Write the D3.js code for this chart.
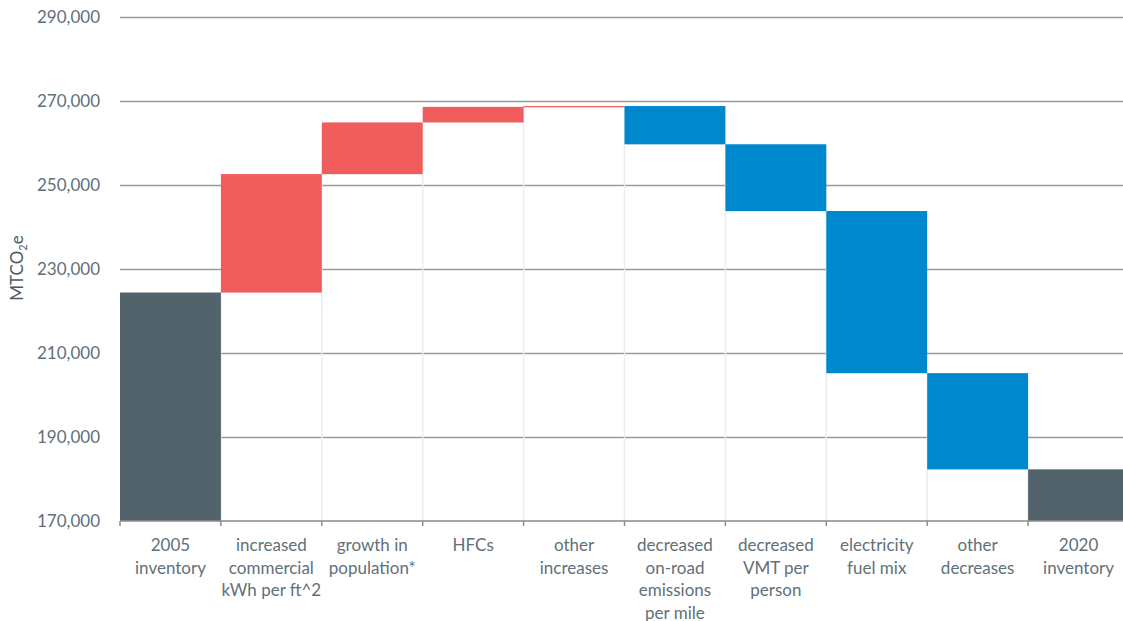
<!DOCTYPE html>
<html>
<head>
<meta charset="utf-8">
<script src="https://cdn.jsdelivr.net/npm/d3@7"></script>
<style>
  body { margin: 0; background: #fff; }
  svg text { font-family: Lato, "Open Sans", sans-serif; }
</style>
</head>
<body>
<svg></svg>
<script>
let categories = ["2005 inventory", "increased commercial kWh per ft^2", "growth in population*", "HFCs",
  "other increases", "decreased on-road emissions per mile", "decreased VMT per person",
  "electricity fuel mix", "other decreases", "2020 inventory"]
// wrapped lines of each category label
let labelLines = [
  ["2005", "inventory"],
  ["increased", "commercial", "kWh per ft^2"],
  ["growth in", "population*"],
  ["HFCs"],
  ["other", "increases"],
  ["decreased", "on-road", "emissions", "per mile"],
  ["decreased", "VMT per", "person"],
  ["electricity", "fuel mix"],
  ["other", "decreases"],
  ["2020", "inventory"]
]
// totals for first/last, changes for the rest
let values = [224400, 28200, 12300, 3700, 200, -9100, -15900, -38600, -22900, 182300]
let kinds = ["total", "step", "step", "step", "step", "step", "step", "step", "step", "total"]
let yTicks = [170000, 190000, 210000, 230000, 250000, 270000, 290000]

let svgWidth = 1123
let svgHeight = 621
let plotLeft = 120, plotRight = 1129, plotTop = 17, plotBottom = 521

let svg = d3.select("svg")
  .attr("width", svgWidth)
  .attr("height", svgHeight)

let x = d3.scaleBand()
  .domain(categories)
  .range([plotLeft, plotRight])
  .padding(0)

let y = d3.scaleLinear()
  .domain([170000, 290000])
  .range([plotBottom, plotTop])

// running waterfall
let running = 0
let bars = values.map((v, i) => {
  let d = { cat: categories[i], kind: kinds[i] }
  if (kinds[i] === "total") {
    d.lo = 170000; d.hi = v; running = v
  } else {
    let start = running
    running += v
    d.lo = Math.min(start, running); d.hi = Math.max(start, running)
    d.dir = v >= 0 ? "up" : "down"
  }
  return d
})

// GRIDLINES + Y LABELS
let yAxis = d3.axisLeft(y)
  .tickValues(yTicks)
  .tickSize(-(svgWidth - plotLeft))
  .tickPadding(20)
  .tickFormat(d3.format(","))

let gy = svg.append("g")
  .attr("transform", `translate(${plotLeft},0)`)
  .call(yAxis)
gy.select(".domain").remove()
gy.selectAll(".tick line")
  .attr("stroke", "#9a9a9a")
  .attr("stroke-width", 1.4)
  .filter(d => d === 170000).remove()
gy.selectAll(".tick text")
  .attr("fill", "#617079")
  .attr("font-size", 17)

// invisible base bars (faint outline only)
svg.selectAll("rect.base")
  .data(bars.filter(d => d.kind === "step"))
  .enter()
  .append("rect")
  .attr("class", "base")
  .attr("x", d => x(d.cat))
  .attr("width", x.bandwidth())
  .attr("y", d => y(d.lo))
  .attr("height", d => y(170000) - y(d.lo))
  .attr("fill", "none")
  .attr("stroke", "#ececec")
  .attr("stroke-width", 1.2)

// THE BARS
let colour = d => d.kind === "total" ? "#53636c" : (d.dir === "up" ? "#f15c5c" : "#0088cf")
svg.selectAll("rect.bar")
  .data(bars)
  .enter()
  .append("rect")
  .attr("class", "bar")
  .attr("x", d => x(d.cat))
  .attr("width", x.bandwidth())
  .attr("y", d => y(d.hi))
  .attr("height", d => Math.max(1.2, y(d.lo) - y(d.hi)))
  .attr("fill", colour)

// X AXIS
svg.append("line")
  .attr("x1", plotLeft).attr("x2", svgWidth)
  .attr("y1", plotBottom).attr("y2", plotBottom)
  .attr("stroke", "#8c8c8c")
  .attr("stroke-width", 1.5)

let boundaries = categories.map(c => x(c)).concat([plotRight])
svg.selectAll("line.tick")
  .data(boundaries)
  .enter()
  .append("line")
  .attr("class", "tick")
  .attr("x1", d => d).attr("x2", d => d)
  .attr("y1", plotBottom).attr("y2", plotBottom + 5)
  .attr("stroke", "#8c8c8c")
  .attr("stroke-width", 1.5)

let xl = svg.selectAll("text.xlab")
  .data(categories)
  .enter()
  .append("text")
  .attr("class", "xlab")
  .attr("text-anchor", "middle")
  .attr("fill", "#617079")
  .attr("font-size", 17)
  .attr("transform", d => `translate(${x(d) + x.bandwidth() / 2},551)`)

xl.selectAll("tspan")
  .data((d, i) => labelLines[i])
  .enter()
  .append("tspan")
  .attr("x", 0)
  .attr("y", (d, i) => i * 22.5)
  .text(d => d)

// Y TITLE
let yt = svg.append("text")
  .attr("transform", "translate(23,268) rotate(-90)")
  .attr("text-anchor", "middle")
  .attr("fill", "#4d5b64")
  .attr("font-size", 17)
yt.append("tspan").text("MTCO")
yt.append("tspan").text("2").attr("font-size", 11).attr("dy", 4)
yt.append("tspan").text("e").attr("dy", -4)
</script>
</body>
</html>
